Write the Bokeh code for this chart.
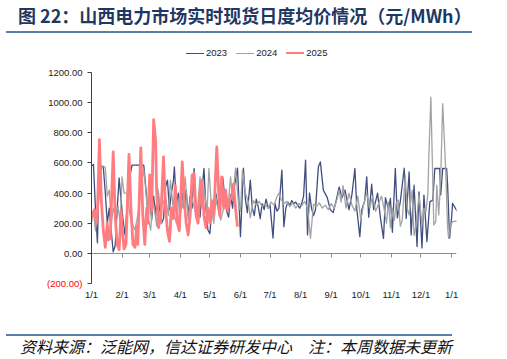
from bokeh.plotting import figure
from bokeh.models import Div, LinearAxis, FixedTicker, Range1d
from bokeh.layouts import column
from bokeh.embed import file_html
from bokeh.resources import INLINE

# ---------------- data (day of year, value in 元/MWh) ----------------
month_ticks = [0, 31, 59, 90, 120, 151, 181, 212, 243, 273, 304, 334, 365]
month_labels = ["1/1", "2/1", "3/1", "4/1", "5/1", "6/1", "7/1", "8/1",
                "9/1", "10/1", "11/1", "12/1", "1/1"]
y_ticks = [-200, 0, 200, 400, 600, 800, 1000, 1200]
y_labels = ["(200.00)", "0.00", "200.00", "400.00", "600.00", "800.00",
            "1000.00", "1200.00"]

days_2023 = [0, 2, 4, 6, 8, 10, 12, 14, 16, 18, 20, 22, 24, 26, 28, 30, 32, 34, 36, 38,
             41, 53, 55, 57, 59, 61, 63, 65, 67, 69, 71, 73, 75, 77, 79, 81, 83, 84, 86, 88,
             90, 92, 94, 96, 98, 100, 102, 104, 106, 108, 110, 112, 114, 116, 118, 120, 122,
             124, 126, 128, 130, 133, 135, 137, 139, 141, 143, 145, 148, 151, 154, 156, 158,
             161, 163, 165, 167, 169, 171, 173, 175, 177, 179, 181, 184, 186, 188, 190, 193,
             195, 197, 199, 201, 203, 205, 207, 209, 211, 213, 215, 217, 219, 221, 223, 225,
             227, 230, 232, 235, 239, 242, 245, 248, 251, 254, 257, 261, 264, 267, 269, 272,
             274, 277, 279, 281, 284, 286, 290, 293, 296, 298, 301, 303, 305, 308, 310, 313,
             317, 319, 322, 324, 327, 330, 332, 335, 337, 340, 343, 346, 348, 353, 354, 356,
             360, 361, 363, 365, 366, 371]
vals_2023 = [580, 590, 300, 70, 560, 580, 570, 400, 200, 300, 150, 10, 50, 290, 500, 350, 220, 120, 300, 480,
             585, 585, 440, 290, 375, 220, 380, 250, 430, 300, 200, 230, 440, 486, 290, 400, 480, 574, 320, 400,
             260, 400, 300, 420, 250, 380, 300, 563, 280, 300, 240, 420, 563, 300, 155, 130, 300,
             250, 400, 310, 420, 508, 380, 280, 240, 390, 300, 450, 565, 111, 565, 360, 270,
             486, 300, 250, 360, 310, 230, 330, 290, 360, 300, 320, 102, 330, 280, 300, 552,
             177, 300, 340, 320, 350, 330, 340, 320, 300, 330, 380, 618, 122, 400, 300, 250,
             288, 574, 607, 420, 370, 290, 270, 350, 440, 370, 420, 290, 390, 563, 290, 111,
             290, 350, 508, 240, 460, 290, 400, 230, 100, 370, 290, 365, 140, 563, 235, 342,
             565, 232, 540, 122, 452, 45, 408, 36, 387, 78, 342, 353, 563, 563, 387, 563,
             563, 452, 102, 235, 332, 276]

days_2024 = [0, 2, 4, 6, 8, 10, 12, 14, 16, 18, 20, 22, 24, 27, 29, 31, 33, 36, 38, 40,
             44, 46, 48, 51, 53, 55, 57, 60, 62, 64, 66, 68, 70, 75, 78, 80, 83, 86, 89, 92,
             95, 98, 101, 103, 107, 110, 112, 115, 117, 119, 122, 124, 126, 128, 131, 134, 136,
             138, 141, 143, 146, 149, 151, 153, 156, 159, 161, 164, 167, 170, 173, 176, 179,
             182, 185, 188, 190, 192, 195, 198, 201, 204, 207, 210, 213, 216, 219, 222, 225,
             228, 231, 234, 237, 240, 243, 246, 249, 251, 253, 255, 258, 261, 264, 267, 270,
             273, 276, 279, 282, 285, 288, 291, 294, 297, 299, 301, 303, 305, 307, 309, 311,
             313, 315, 318, 320, 322, 325, 327, 329, 332, 335, 337, 339, 341, 342, 344, 347,
             349, 350, 352, 354, 356, 359, 361, 362, 364, 366, 371]
vals_2024 = [200, 280, 150, 250, 420, 560, 580, 570, 380, 420, 200, 300, 250, 310, 200, 508, 400, 400, 300, 220,
             155, 220, 300, 480, 552, 420, 250, 155, 350, 290, 180, 400, 288, 375, 250, 486, 288, 200, 375, 300,
             508, 221, 400, 332, 243, 508, 300, 398, 250, 563, 268, 200, 375, 300, 221, 300, 398,
             280, 508, 350, 565, 334, 280, 552, 400, 340, 235, 350, 320, 345, 310, 330, 300,
             340, 320, 375, 400, 360, 330, 345, 310, 335, 300, 330, 315, 345, 300, 100, 325,
             310, 335, 300, 320, 290, 330, 300, 360, 420, 340, 450, 300, 400, 320, 280, 380,
             220, 330, 400, 300, 380, 280, 330, 380, 280, 200, 340, 170, 300, 220, 340, 353,
             180, 221, 519, 300, 254, 420, 120, 188, 387, 188, 300, 276, 400, 651, 1036, 188,
             210, 452, 254, 500, 993, 565, 168, 100, 188, 210, 215]

days_2025 = [0, 2, 3, 5, 6, 8, 10, 12, 14, 16, 17, 19, 22, 24, 26, 28, 30, 31, 33, 35,
             38, 40, 42, 44, 46, 47, 50, 52, 54, 56, 57, 59, 61, 63, 65, 66, 68, 69, 70, 73,
             75, 77, 79, 81, 83, 85, 87, 89, 92, 94, 96, 98, 100, 102, 104, 106, 108, 110,
             112, 114, 116, 118, 120, 122, 124, 127, 129, 130, 132, 134, 136, 138, 140, 142,
             144, 146, 148]
vals_2025 = [280, 250, 290, 200, 260, 755, 350, 150, 40, 200, 90, 100, 673, 250, 60, 25, 280, 180, 30, 60,
             656, 300, 60, 40, 180, 60, 700, 250, 60, 300, 200, 520, 280, 887, 750, 420, 170, 250, 200, 640,
             300, 150, 80, 300, 230, 450, 200, 150, 607, 350, 200, 122, 250, 519, 530, 250, 200, 400,
             486, 250, 170, 300, 200, 350, 250, 706, 400, 250, 508, 300, 420, 286, 350, 375,
             460, 300, 177]

series_names = ["2023", "2024", "2025"]
series_colors = ["#3F4E7E", "#A3A3A3", "#FF7C80"]
series_widths = [1.3, 1.3, 2.8]

FONT = "Liberation Sans"

# ---------------- figure ----------------
p = figure(width=507, height=272, output_backend="svg", toolbar_location=None,
           x_range=Range1d(0, 370), y_range=Range1d(-200, 1200),
           min_border_left=91, min_border_right=51, min_border_top=10,
           min_border_bottom=51, x_axis_type=None, y_axis_type=None,
           background_fill_color="white", border_fill_color="white", margin=0)
p.outline_line_color = None
p.xgrid.visible = False
p.ygrid.visible = False

for d, v, c, w in zip([days_2023, days_2024, days_2025],
                      [vals_2023, vals_2024, vals_2025],
                      series_colors, series_widths):
    p.line(d, v, line_color=c, line_width=w, line_join="round")

# y axis: black labels (the negative one is blanked here and drawn red below)
yax = LinearAxis(ticker=FixedTicker(ticks=y_ticks),
                 major_label_overrides={t: (l if t >= 0 else " ") for t, l in zip(y_ticks, y_labels)})
yax.axis_line_color = "#404040"
yax.major_tick_line_color = "#404040"
yax.major_tick_out = 4
yax.major_tick_in = 0
yax.minor_tick_out = 0
yax.minor_tick_in = 0
yax.major_label_standoff = 5
yax.major_label_text_font = FONT
yax.major_label_text_font_size = "9.5px"
yax.major_label_text_color = "#222222"
p.add_layout(yax, "left")

# second left axis carrying only the red negative label, pulled back beside the first
nax = LinearAxis(ticker=FixedTicker(ticks=y_ticks[:1]),
                 major_label_overrides={y_ticks[0]: y_labels[0]})
nax.axis_line_color = None
nax.major_tick_line_color = None
nax.minor_tick_line_color = None
nax.major_tick_out = 0
nax.major_tick_in = 0
nax.major_label_standoff = -37
nax.major_label_text_font = FONT
nax.major_label_text_font_size = "9.5px"
nax.major_label_text_color = "#FF0000"
p.add_layout(nax, "left")

# bottom label axis
xax = LinearAxis(ticker=FixedTicker(ticks=month_ticks),
                 major_label_overrides={t: l for t, l in zip(month_ticks, month_labels)})
xax.axis_line_color = None
xax.major_tick_line_color = None
xax.minor_tick_line_color = None
xax.major_tick_out = 0
xax.major_tick_in = 0
xax.major_label_standoff = 5
xax.major_label_text_font = FONT
xax.major_label_text_font_size = "9.5px"
xax.major_label_text_color = "#222222"
p.add_layout(xax, "below")

# zero line with downward ticks
zax = LinearAxis(ticker=FixedTicker(ticks=month_ticks), fixed_location=0)
zax.axis_line_color = "#8C8C8C"
zax.major_tick_line_color = "#8C8C8C"
zax.major_tick_out = 4
zax.major_tick_in = 0
zax.minor_tick_out = 0
zax.minor_tick_in = 0
zax.major_label_text_color = None
zax.major_label_standoff = 0
p.add_layout(zax, "below")

# ---------------- legend, title, footer ----------------
legend_items = "".join(
    f"<span style=\"display:inline-block;width:18px;height:0;border-top:{w}px solid {c};"
    f"vertical-align:middle;margin:0 2px 0 {0 if i == 0 else 9}px;\"></span>{n}"
    for i, (n, c, w) in enumerate(zip(series_names, series_colors, series_widths)))
legend = Div(text=("<div style=\"font-family:'Liberation Sans';font-size:9.5px;color:#222222;"
                   "line-height:12px;padding:14px 0 0 186px;white-space:nowrap;\">"
                   + legend_items + "</div>"),
             width=507, height=29, margin=0)

title = Div(text=("<div style=\"font-family:'Noto Sans CJK SC';font-weight:bold;font-size:18px;"
                  "color:#1F3763;line-height:20px;padding:5px 0 6px 12px;margin:0 5px 0 6px;"
                  "border-bottom:2px solid #5B7DB1;white-space:nowrap;\">"
                  "图 22：山西电力市场实时现货日度均价情况（元/MWh）</div>"),
            width=507, height=33, margin=0)
footer = Div(text=("<div style=\"font-family:'Noto Sans CJK SC';font-style:italic;font-size:16px;"
                   "color:#111111;line-height:16px;padding:2px 0 0 14px;margin:0 5px 0 6px;"
                   "border-top:2px solid #5B7DB1;white-space:nowrap;\">"
                   "资料来源：泛能网，信达证券研发中心　注：本周数据未更新</div>"),
             width=507, height=20, margin=0)

layout = column(title, legend, p, footer, spacing=0, margin=0)
open("out.html", "w").write(file_html(layout, INLINE))
